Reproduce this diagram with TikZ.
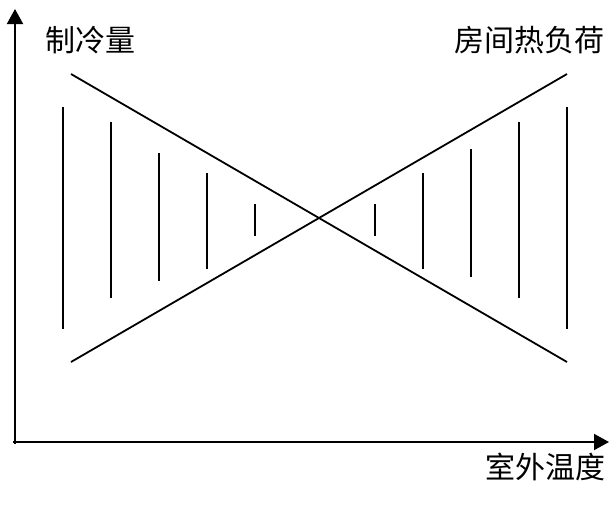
\documentclass[tikz,border=0pt]{standalone}
\usepackage{fontspec}
\newfontfamily\cjk{Noto Sans CJK SC}
\usetikzlibrary{arrows.meta}
\begin{document}
\begin{tikzpicture}[x=1pt,y=-1pt,
  axis/.style={line width=2pt,-{Triangle[length=15pt,width=16pt]}},
  curve/.style={line width=1.8pt},
  hatch/.style={line width=2pt},
  lbl/.style={font=\cjk\fontsize{30}{30}\selectfont,inner sep=0pt}]
\useasboundingbox (0,0) rectangle (609,509);
% axes
\coordinate (O) at (15,442);
\coordinate (Ytip) at (15,9);
\coordinate (Xtip) at (609,442);
\draw[axis] (15,444) -- (Ytip);
\draw[axis] (13,442) -- (Xtip);
% crossing lines
\coordinate (a1) at (71,74);
\coordinate (a2) at (567,362);
\coordinate (b1) at (71,362);
\coordinate (b2) at (567,74);
\draw[curve] (a1) -- (a2);
\draw[curve] (b1) -- (b2);
% hatching
\foreach \x/\ya/\yb in {63/107/329, 111/122/298, 159/153/281, 207/173/269, 255/204/236,
                        375/204/236, 423/173/269, 471/149/277, 519/122/298, 567/107/329}
  \draw[hatch] (\x,\ya) -- (\x,\yb);
% labels
\node[lbl] (cool) at (90,40) {制冷量};
\node[lbl] (load) at (529,40) {房间热负荷};
\node[lbl] (temp) at (545,467) {室外温度};
\end{tikzpicture}
\end{document}
